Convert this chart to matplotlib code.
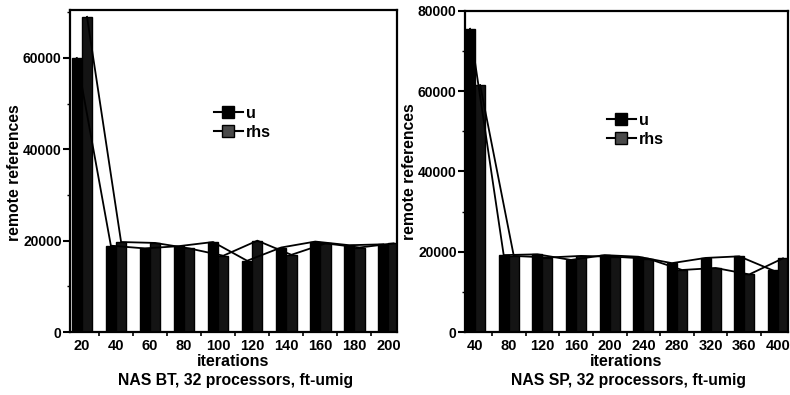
import matplotlib.pyplot as plt
from matplotlib.lines import Line2D
from matplotlib.ticker import MultipleLocator

plt.rcParams['font.family'] = ['Liberation Sans', 'DejaVu Sans']
plt.rcParams['font.weight'] = 'bold'

# dados
bt_iter = [20, 40, 60, 80, 100, 120, 140, 160, 180, 200]
bt_u = [60000, 18900, 18300, 18800, 19700, 15600, 18500, 19800, 19000, 19200]
bt_rhs = [69000, 19700, 19500, 18300, 16700, 20000, 16900, 19400, 18500, 19400]

sp_iter = [40, 80, 120, 160, 200, 240, 280, 320, 360, 400]
sp_u = [75500, 19200, 19400, 18000, 19200, 18800, 17200, 18500, 18900, 15400]
sp_rhs = [61500, 19000, 18600, 19000, 18800, 18300, 15500, 16000, 14400, 18400]

W, H = 790, 395


def painel(rect, iters, u, rhs, passo, xlim, ylim, yticks, titulo, leg_pos, ylab_pos):
	ax = fig.add_axes(rect)
	w = passo * 0.3
	xu = [x - w / 2 for x in iters]
	xr = [x + w / 2 for x in iters]
	ax.bar(xu, u, width=w, color='black', edgecolor='black', linewidth=1, zorder=2)
	ax.bar(xr, rhs, width=w, color='#141414', edgecolor='black', linewidth=1, zorder=2)
	# linhas ligando o topo das barras
	ax.plot(xu, u, color='black', lw=1.3, zorder=3)
	ax.plot(xr, rhs, color='black', lw=1.3, zorder=3)

	ax.set_xlim(xlim)
	ax.set_ylim(ylim)
	ax.set_xticks(iters)
	ax.set_yticks(yticks)
	ax.set_xticks([x + passo / 2 for x in iters[:-1]], minor=True)
	ax.yaxis.set_minor_locator(MultipleLocator(10000))
	ax.tick_params(axis='x', which='major', direction='in', length=4, width=1.2,
				   labelsize=10.5, pad=5)
	ax.tick_params(axis='x', which='minor', direction='out', length=3, width=1.2)
	ax.tick_params(axis='y', which='major', direction='out', length=5, width=1.5,
				   labelsize=10, pad=1)
	ax.tick_params(axis='y', which='minor', direction='out', length=2.5, width=1)
	for s in ax.spines.values():
		s.set_linewidth(1.6)

	x0 = rect[0] * W
	x1 = (rect[0] + rect[2]) * W
	cx = (x0 + x1) / 2
	fig.text(ylab_pos[0] / W, 1 - ylab_pos[1] / H, 'remote references', rotation=90,
			 ha='center', va='center', fontsize=11.3, fontweight='bold')
	fig.text(cx / W, 1 - 362 / H, 'iterations', ha='center', va='center',
			 fontsize=11.5, fontweight='bold')
	fig.text((cx + 2) / W, 1 - 380 / H, titulo, ha='center', va='center',
			 fontsize=11.3, fontweight='bold')

	handles = [
		Line2D([], [], color='black', lw=1.5, marker='s', markersize=8,
			   markerfacecolor='black', markeredgecolor='black'),
		Line2D([], [], color='black', lw=1.5, marker='s', markersize=8,
			   markerfacecolor='#4a4a4a', markeredgecolor='black'),
	]
	ax.legend(handles, ['u', 'rhs'], loc='upper left',
			  bbox_to_anchor=(leg_pos[0] / W, 1 - leg_pos[1] / H),
			  bbox_transform=fig.transFigure, frameon=False,
			  prop={'size': 11.5, 'weight': 'bold'}, handlelength=1.8,
			  handletextpad=0.2, labelspacing=0.25, borderpad=0, borderaxespad=0)
	return ax


fig = plt.figure(figsize=(7.9, 3.95), dpi=100)

painel([70 / W, 1 - 332 / H, 327 / W, 322 / H], bt_iter, bt_u, bt_rhs, 20,
	   (13, 205), (0, 70500), [0, 20000, 40000, 60000],
	   'NAS BT, 32 processors, ft-umig', (214, 106), (15, 173))
painel([465 / W, 1 - 332.3 / H, 323 / W, 321.6 / H], sp_iter, sp_u, sp_rhs, 40,
	   (28, 412), (0, 80000), [0, 20000, 40000, 60000, 80000],
	   'NAS SP, 32 processors, ft-umig', (607, 113), (409, 172))

fig.savefig('out.png', dpi=100)
